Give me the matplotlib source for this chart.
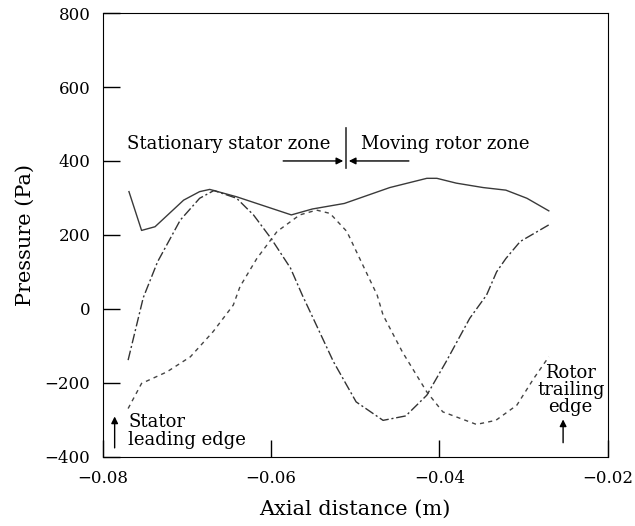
import matplotlib
matplotlib.use('Agg')
import matplotlib.pyplot as plt

plt.rcParams['font.family'] = 'DejaVu Serif'

# Pressure along axial distance, three curves
x_solid = [-0.0769, -0.0754, -0.0738, -0.0704, -0.0685, -0.0673, -0.0641, -0.0576,
           -0.0551, -0.0513, -0.0459, -0.0415, -0.0403, -0.0380, -0.0348, -0.0321,
           -0.0296, -0.0270]
p_solid = [317, 212, 222, 294, 317, 323, 303, 254,
           270, 285, 328, 353, 353, 340, 328, 321,
           299, 265]

x_dashdot = [-0.0770, -0.0752, -0.0735, -0.0708, -0.0685, -0.0668, -0.0641, -0.0621,
             -0.0600, -0.0577, -0.0563, -0.0550, -0.0526, -0.0499, -0.0467, -0.0440,
             -0.0415, -0.0392, -0.0364, -0.0344, -0.0332, -0.0321, -0.0304, -0.0270]
p_dashdot = [-139, 30, 127, 240, 299, 320, 299, 254,
             190, 110, 37, -26, -143, -252, -302, -290,
             -234, -143, -26, 37, 100, 136, 182, 227]

x_dash = [-0.0770, -0.0754, -0.0724, -0.0696, -0.0669, -0.0645, -0.0637, -0.0617,
          -0.0593, -0.0566, -0.0546, -0.0530, -0.0510, -0.0491, -0.0474, -0.0467,
          -0.0444, -0.0415, -0.0396, -0.0356, -0.0333, -0.0308, -0.0288, -0.0270]
p_dash = [-270, -202, -171, -130, -62, 10, 60, 136,
          209, 254, 267, 258, 209, 118, 37, -17,
          -117, -225, -279, -313, -302, -261, -189, -130]

xticks = [-0.08, -0.06, -0.04, -0.02]
yticks = [-400, -200, 0, 200, 400, 600, 800]

fig = plt.figure(figsize=(6.35, 5.26), dpi=100)
ax = fig.add_axes([0.162, 0.132, 0.795, 0.843])

ax.plot(x_solid, p_solid, color='#3a3a3a', lw=1.0, ls='-')
ax.plot(x_dashdot, p_dashdot, color='#333333', lw=1.0, ls=(0, (7, 2, 1.5, 2)))
ax.plot(x_dash, p_dash, color='#444444', lw=1.0, ls=(0, (3, 3)))

ax.set_xlim(-0.08, -0.02)
ax.set_ylim(-400, 800)
ax.set_xticks(xticks)
ax.set_yticks(yticks)
ax.set_xticklabels(['\u22120.08', '\u22120.06', '\u22120.04', '\u22120.02'])
ax.set_yticklabels(['\u2212400', '\u2212200', '0', '200', '400', '600', '800'])
ax.tick_params(direction='in', length=12, width=1, labelsize=12)
ax.tick_params(axis='y', pad=9)
ax.tick_params(axis='x', pad=10)
ax.set_xlabel('Axial distance (m)', fontsize=15, labelpad=9)
ax.set_ylabel('Pressure (Pa)', fontsize=15, labelpad=7)

# zone annotation
ax.text(-0.0530, 445, 'Stationary stator zone', ha='right', va='center', fontsize=13)
ax.text(-0.0493, 445, 'Moving rotor zone', ha='left', va='center', fontsize=13)
ax.plot([-0.0511, -0.0511], [380, 489], color='#333333', lw=1.2)
ax.annotate('', xy=(-0.0511, 400), xytext=(-0.0589, 400),
            arrowprops=dict(arrowstyle='-|>', color='black', lw=1, mutation_scale=10))
ax.annotate('', xy=(-0.0511, 400), xytext=(-0.0433, 400),
            arrowprops=dict(arrowstyle='-|>', color='black', lw=1, mutation_scale=10))

# edge annotations
ax.annotate('', xy=(-0.0786, -284), xytext=(-0.0786, -384),
            arrowprops=dict(arrowstyle='-|>', color='black', lw=1, mutation_scale=10))
ax.text(-0.0770, -330, 'Stator\nleading edge', ha='left', va='center',
        fontsize=13, linespacing=1.0)
ax.annotate('', xy=(-0.0253, -292), xytext=(-0.0253, -370),
            arrowprops=dict(arrowstyle='-|>', color='black', lw=1, mutation_scale=10))
ax.text(-0.0244, -220, 'Rotor\ntrailing\nedge', ha='center', va='center',
        fontsize=13, linespacing=0.95)

fig.savefig('out.png', dpi=100)
